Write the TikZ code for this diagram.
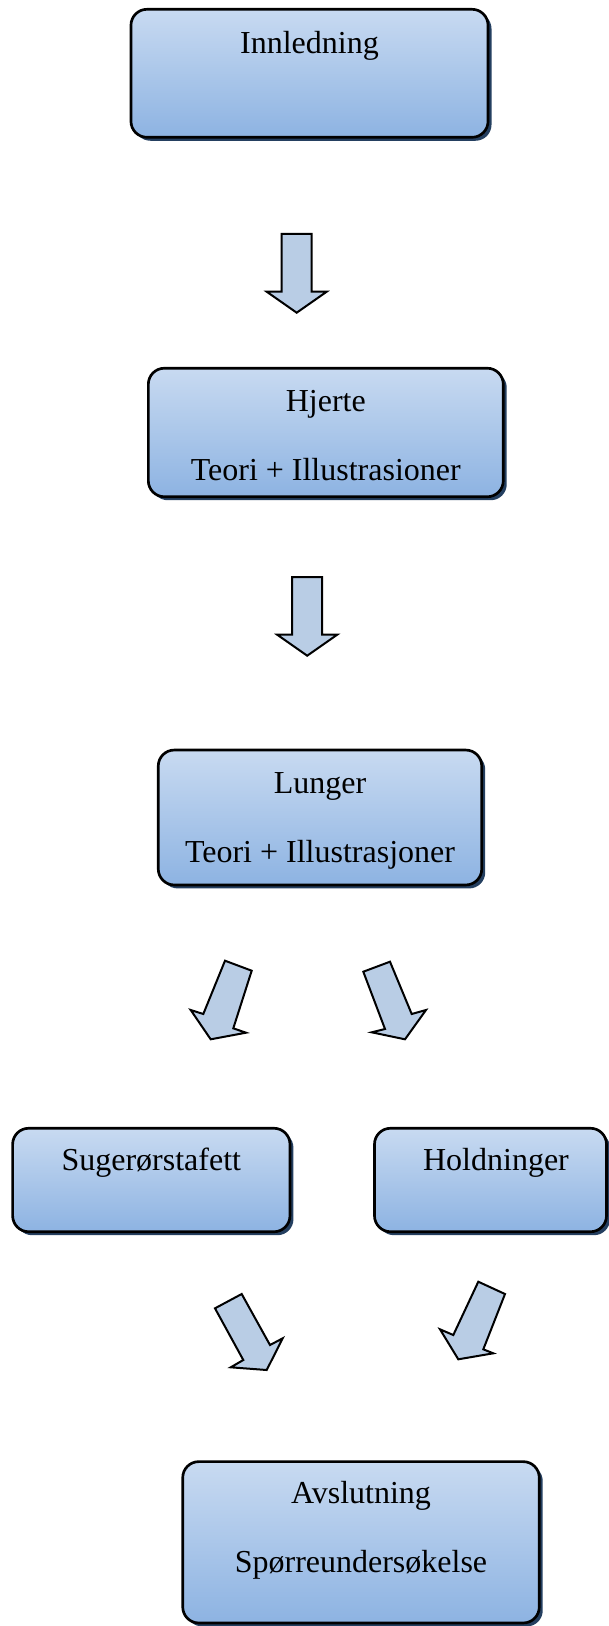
\documentclass[tikz,border=0pt]{standalone}
\usepackage{fontspec}
\setmainfont{Liberation Serif}
\usetikzlibrary{shadows,calc}

\definecolor{bokstopp}{RGB}{200,218,241}
\definecolor{boksbunn}{RGB}{141,179,226}
\definecolor{boksskygge}{RGB}{36,63,96}
\definecolor{pilfarge}{RGB}{185,205,229}

\tikzset{
  boks/.style={rectangle, rounded corners=6pt, draw=black, line width=1pt,
    top color=bokstopp, bottom color=boksbunn,
    drop shadow={shadow xshift=1.3pt, shadow yshift=-1.3pt, fill=boksskygge, opacity=1}},
  tekst/.style={anchor=base, inner sep=0pt, font=\fontsize{12pt}{14pt}\selectfont},
  pil/.style={draw=black, line width=0.75pt, fill=pilfarge, line join=miter}
}

\begin{document}
\begin{tikzpicture}[x=0.375pt,y=-0.375pt]
            \useasboundingbox (0,0) rectangle (608,1626);
            % boksene
            \node[boks, minimum width=133.9pt, minimum height=48pt] (innledning) at (309.5,73.3) {};
            \node[boks, minimum width=133.1pt, minimum height=48.2pt] (hjerte) at (325.8,432.5) {};
            \node[boks, minimum width=121.3pt, minimum height=50.6pt] (lunger) at (320,817.5) {};
            \node[boks, minimum width=104pt, minimum height=38.8pt] (sugeror) at (151.3,1180) {};
            \node[boks, minimum width=87pt, minimum height=38.8pt] (holdninger) at (490.5,1180) {};
            \node[boks, minimum width=133.7pt, minimum height=60.5pt] (avslutning) at (361,1542.3) {};
            % tekstene
            \node[tekst] (innledning-1) at ($(innledning.north)+(0,45.5)$) {Innledning};
            \node[tekst] (hjerte-1) at ($(hjerte.north)+(0,44.4)$) {Hjerte};
            \node[tekst] (hjerte-2) at ($(hjerte.north)+(0,113.4)$) {Teori + Illustrasioner};
            \node[tekst] (lunger-1) at ($(lunger.north)+(0,45)$) {Lunger};
            \node[tekst] (lunger-2) at ($(lunger.north)+(0,113.3)$) {Teori + Illustrasjoner};
            \node[tekst] (sugeror-1) at ($(sugeror.north)+(0,43.4)$) {Sugerørstafett};
            \node[tekst] (holdninger-1) at ($(holdninger.north)+(5.5,43.4)$) {Holdninger};
            \node[tekst] (avslutning-1) at ($(avslutning.north)+(0,43.3)$) {Avslutning};
            \node[tekst] (avslutning-2) at ($(avslutning.north)+(0,112.3)$) {Spørreundersøkelse};
            % pilene
            \draw[pil] (281.7,234) -- (311.7,234) -- (311.7,291.7) -- (326.7,291.7) -- (296.7,312.7) -- (266.7,291.7) -- (281.7,291.7) -- cycle;
            \draw[pil] (292.2,577) -- (322.2,577) -- (322.2,634.7) -- (337.2,634.7) -- (307.2,655.7) -- (277.2,634.7) -- (292.2,634.7) -- cycle;
            \draw[pil] (225,960.7) -- (251.7,970.7) -- (233.3,1028.3) -- (246,1032.7) -- (210.7,1039.3) -- (190.7,1010) -- (203.3,1014) -- cycle;
            \draw[pil] (363.3,971.7) -- (390,961.7) -- (411.7,1014) -- (426,1010) -- (405,1039.3) -- (371.7,1032.3) -- (385,1029) -- cycle;
            \draw[pil] (215,1308.3) -- (241.7,1294) -- (270,1345) -- (282.7,1338.3) -- (266.7,1370) -- (230.7,1367.3) -- (243.3,1360) -- cycle;
            \draw[pil] (478.3,1281.7) -- (505,1294) -- (483.3,1349.3) -- (493.3,1353.3) -- (458.3,1359.3) -- (440,1329.3) -- (453.3,1335) -- cycle;
\end{tikzpicture}
\end{document}
